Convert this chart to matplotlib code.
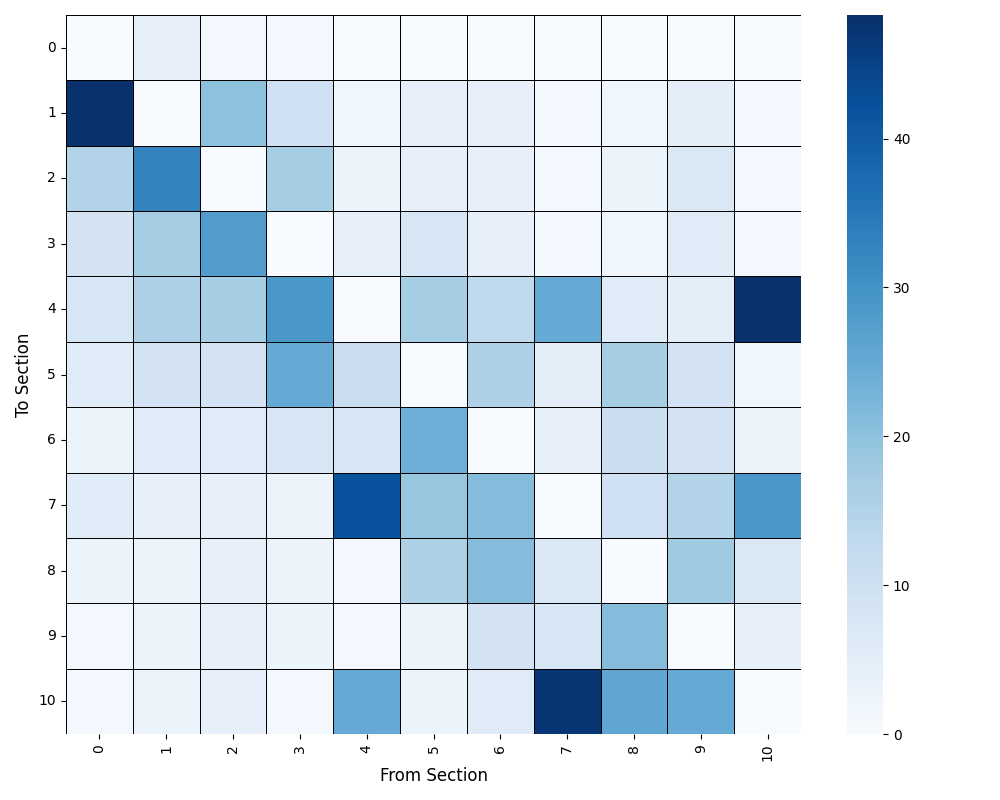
import matplotlib
matplotlib.use("Agg")
import matplotlib.pyplot as plt
import seaborn as sns
import numpy as np

sections = list(range(11))
row0 = [0, 4, 1, 1, 0, 0, 0, 0, 0, 0, 0]
row1 = [48, 0, 20, 10, 2, 4, 4, 1, 2, 5, 1]
row2 = [15, 33, 0, 17, 3, 4, 4, 1, 3, 7, 1]
row3 = [9, 17, 28, 0, 4, 8, 4, 1, 2, 6, 1]
row4 = [8, 16, 17, 29, 0, 17, 13, 25, 6, 5, 48]
row5 = [6, 9, 9, 25, 11, 0, 16, 5, 17, 9, 2]
row6 = [3, 6, 6, 8, 8, 24, 0, 4, 11, 9, 3]
row7 = [6, 4, 4, 3, 42, 19, 21, 0, 10, 15, 29]
row8 = [3, 3, 4, 3, 1, 16, 21, 7, 0, 18, 7]
row9 = [1, 3, 4, 3, 1, 3, 9, 8, 21, 0, 4]
row10 = [1, 3, 4, 1, 25, 3, 6, 47, 26, 25, 0]

data = np.array([row0, row1, row2, row3, row4, row5, row6, row7, row8, row9, row10])

fig, ax = plt.subplots(figsize=(10, 8), dpi=100)
sns.heatmap(data, cmap="Blues", linewidths=0.5, linecolor="black",
            xticklabels=sections, yticklabels=sections, ax=ax, vmin=0, vmax=48.3)
ax.set_xlabel("From Section", fontsize=12)
ax.set_ylabel("To Section", fontsize=12)
plt.setp(ax.get_xticklabels(), rotation=90)
plt.setp(ax.get_yticklabels(), rotation=0)
plt.tight_layout()
fig.savefig("out.png", dpi=100)
